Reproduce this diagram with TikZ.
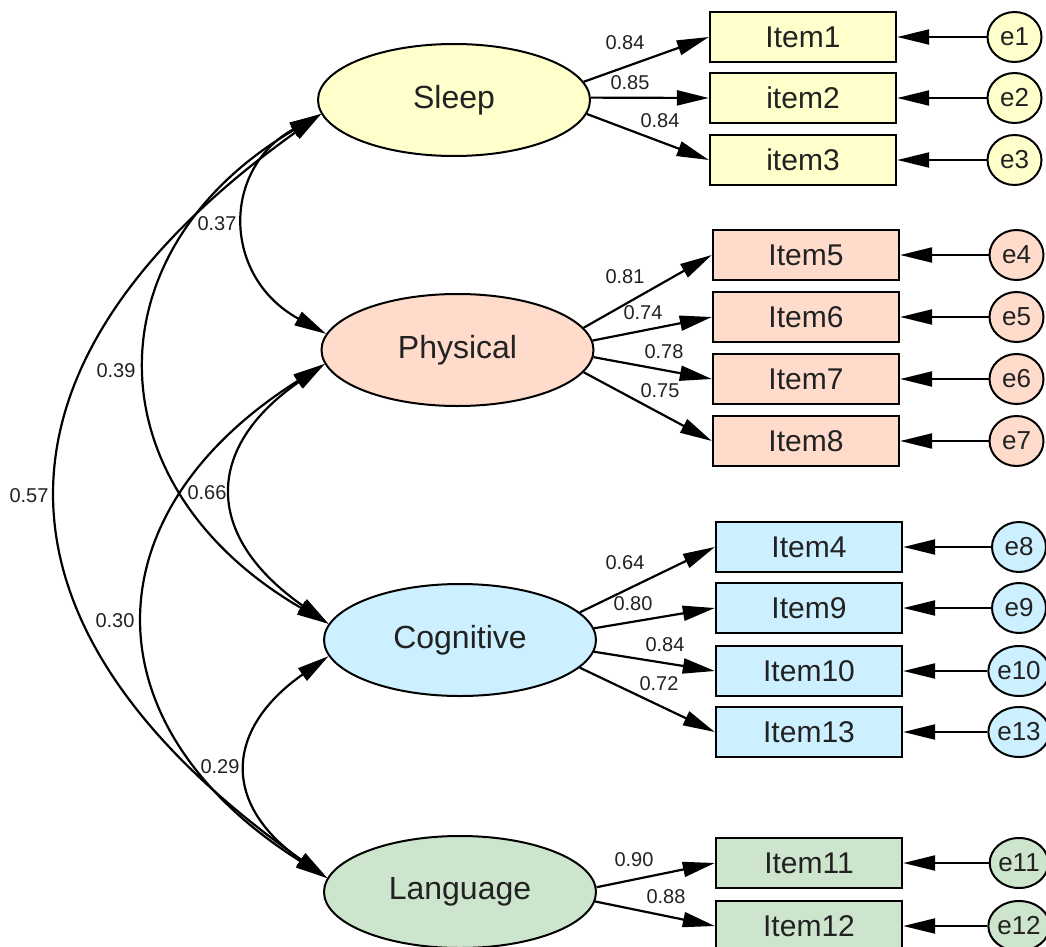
\documentclass[tikz,border=0pt]{standalone}
\usepackage{fontspec}
\setmainfont{Liberation Sans}
\usetikzlibrary{arrows.meta,shapes.geometric}
\definecolor{sleepc}{RGB}{255,255,204}
\definecolor{physc}{RGB}{255,219,204}
\definecolor{cogc}{RGB}{204,240,255}
\definecolor{langc}{RGB}{204,229,204}
\definecolor{txt}{RGB}{34,34,34}
\begin{document}
\begin{tikzpicture}[x=1pt,y=-1pt,
  factor/.style={ellipse, draw, line width=2pt, minimum width=272pt, minimum height=112pt, inner sep=0pt, text=txt, font=\fontsize{32}{38}\selectfont},
  itembox/.style={rectangle, draw, line width=2.4pt, minimum width=186pt, minimum height=50pt, inner sep=0pt, text=txt, font=\fontsize{30}{36}\selectfont},
  errc/.style={ellipse, draw, line width=2pt, minimum width=54pt, minimum height=50pt, inner sep=0pt, text=txt, font=\fontsize{26}{30}\selectfont},
  coef/.style={text=txt, font=\fontsize{20}{24}\selectfont, inner sep=0pt},
  load/.style={line width=2.2pt, -{Triangle[length=32pt,width=15pt]}},
  cov/.style={line width=2.2pt, {Triangle[length=32pt,width=15pt]}-{Triangle[length=32pt,width=15pt]}},
]
\useasboundingbox (0,0) rectangle (1046,947);
\clip (0,0) rectangle (1046,947);

% factors
\node[factor, fill=sleepc] (sleep) at (454,100) {Sleep};
\node[factor, fill=physc] (phys) at (457.5,350) {Physical};
\node[factor, fill=cogc] (cog) at (460,640) {Cognitive};
\node[factor, fill=langc] (lang) at (460,892) {Language};

% items
\node[itembox, fill=sleepc] (i1) at (803,37) {Item1};
\node[itembox, fill=sleepc] (i2) at (803,98) {item2};
\node[itembox, fill=sleepc] (i3) at (803,160) {item3};
\node[itembox, fill=physc] (i5) at (806,255) {Item5};
\node[itembox, fill=physc] (i6) at (806,317) {Item6};
\node[itembox, fill=physc] (i7) at (806,379) {Item7};
\node[itembox, fill=physc] (i8) at (806,441) {Item8};
\node[itembox, fill=cogc] (i4) at (809,547) {Item4};
\node[itembox, fill=cogc] (i9) at (809,608) {Item9};
\node[itembox, fill=cogc] (i10) at (809,671) {Item10};
\node[itembox, fill=cogc] (i13) at (809,732) {Item13};
\node[itembox, fill=langc] (i11) at (809,863) {Item11};
\node[itembox, fill=langc] (i12) at (809,926) {Item12};

% errors
\node[errc, fill=sleepc] (e1) at (1014.5,37) {e1};
\node[errc, fill=sleepc] (e2) at (1014.5,98) {e2};
\node[errc, fill=sleepc] (e3) at (1014.5,160) {e3};
\node[errc, fill=physc] (e4) at (1016.5,255) {e4};
\node[errc, fill=physc] (e5) at (1016.5,317) {e5};
\node[errc, fill=physc] (e6) at (1016.5,379) {e6};
\node[errc, fill=physc] (e7) at (1016.5,441) {e7};
\node[errc, fill=cogc] (e8) at (1019,547) {e8};
\node[errc, fill=cogc] (e9) at (1019,608) {e9};
\node[errc, fill=cogc] (e10) at (1019,671) {e10};
\node[errc, fill=cogc] (e13) at (1019,732) {e13};
\node[errc, fill=langc] (e11) at (1019,863) {e11};
\node[errc, fill=langc] (e12) at (1019,926) {e12};

% loadings
\draw[load] (sleep.8) -- (i1.west);
\draw[load] (sleep.1) -- (i2.west);
\draw[load] (sleep.354) -- (i3.west);
\draw[load] (phys.10) -- (i5.west);
\draw[load] (phys.4) -- (i6.west);
\draw[load] (phys.357) -- (i7.west);
\draw[load] (phys.350) -- (i8.west);
\draw[load] (cog.13) -- (i4.west);
\draw[load] (cog.5) -- (i9.west);
\draw[load] (cog.355) -- (i10.west);
\draw[load] (cog.347) -- (i13.west);
\draw[load] (lang.2) -- (i11.west);
\draw[load] (lang.356) -- (i12.west);

% error arrows
\foreach \e/\i in {e1/i1,e2/i2,e3/i3,e4/i5,e5/i6,e6/i7,e7/i8,e8/i4,e9/i9,e10/i10,e13/i13,e11/i11,e12/i12}
  \draw[load] (\e) -- (\i.east);

% loading labels
\node[coef] (l1) at (625,43) {0.84};
\node[coef] (l2) at (630,83) {0.85};
\node[coef] (l3) at (660,121) {0.84};
\node[coef] (l5) at (625,277) {0.81};
\node[coef] (l6) at (643,313) {0.74};
\node[coef] (l7) at (664,352) {0.78};
\node[coef] (l8) at (660,391) {0.75};
\node[coef] (l4) at (625,563) {0.64};
\node[coef] (l9) at (633,604) {0.80};
\node[coef] (l10) at (665,645) {0.84};
\node[coef] (l13) at (659,684) {0.72};
\node[coef] (l11) at (634,860) {0.90};
\node[coef] (l12) at (666,897) {0.88};

% covariances
\draw[cov] (sleep.186) .. controls +(-100,55) and +(-104,-57) .. (phys.173);
\draw[cov] (sleep.186) .. controls +(-232,136) and +(-238,-138) .. (cog.173);
\draw[cov] (sleep.186) .. controls +(-350,250) and +(-356,-251) .. (lang.174);
\draw[cov] (phys.186) .. controls +(-122,85) and +(-124,-87) .. (cog.173);
\draw[cov] (phys.186) .. controls +(-238,150) and +(-240,-151) .. (lang.174);
\draw[cov] (cog.187) .. controls +(-105,74) and +(-105,-73) .. (lang.174);

% covariance labels
\node[coef] (c37) at (217,224) {0.37};
\node[coef] (c39) at (116,371) {0.39};
\node[coef] (c57) at (29,496) {0.57};
\node[coef] (c66) at (207,493) {0.66};
\node[coef] (c30) at (115,621) {0.30};
\node[coef] (c29) at (220,767) {0.29};
\end{tikzpicture}
\end{document}
